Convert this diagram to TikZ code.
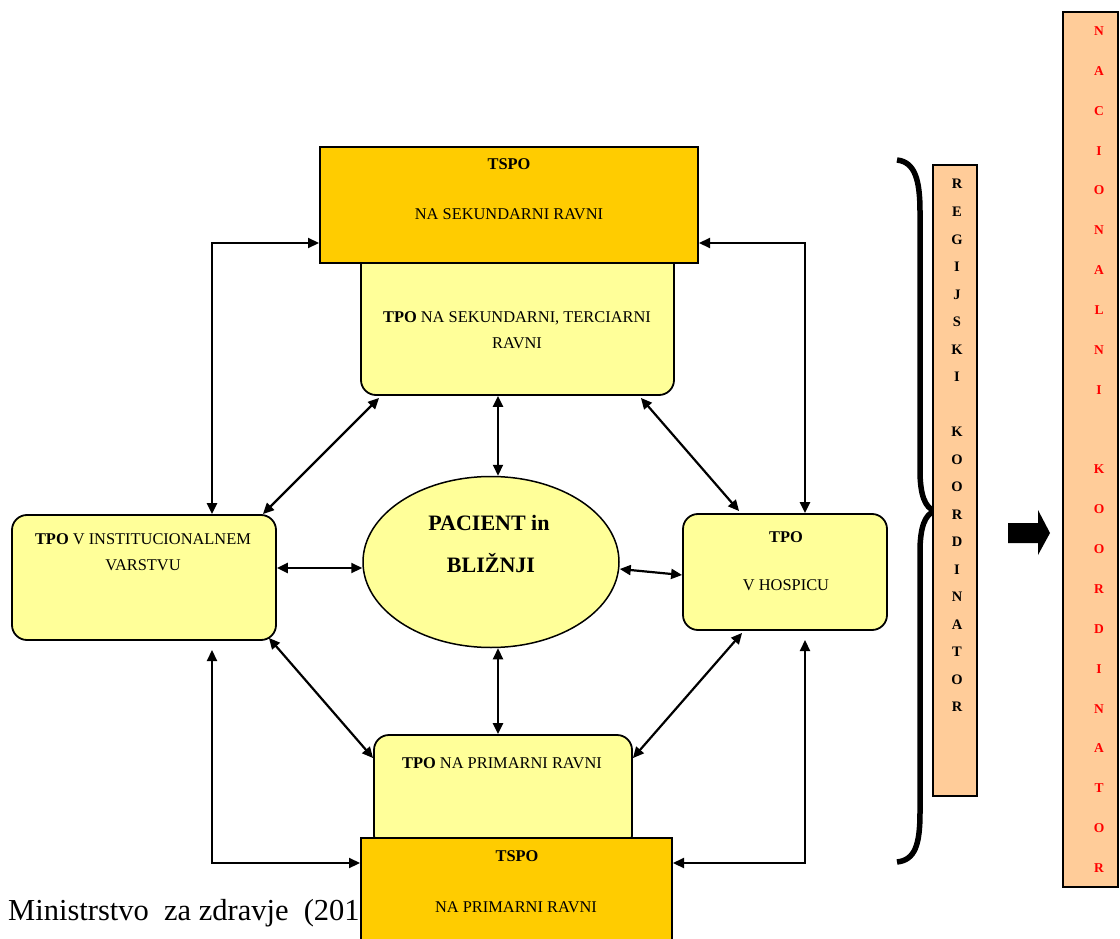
\documentclass[tikz,border=0pt]{standalone}
\usepackage{fontspec}
\setmainfont{Liberation Serif}
\usetikzlibrary{arrows.meta,shapes.geometric,calc}
\definecolor{tspoc}{HTML}{FFCC00}
\definecolor{tpoc}{HTML}{FFFF99}
\definecolor{barc}{HTML}{FFCC99}
\begin{document}
\begin{tikzpicture}[x=1pt,y=-1pt,
  arr/.style={line width=2.2pt,{Triangle[length=11pt,width=10pt]}-{Triangle[length=11pt,width=10pt]}},
  tspobox/.style={draw,line width=2pt,fill=tspoc,rectangle,inner sep=0pt},
  tpobox/.style={draw,line width=1.8pt,fill=tpoc,rectangle,rounded corners=15pt,inner sep=0pt},
  barbox/.style={draw,line width=2pt,fill=barc,rectangle,inner sep=0pt},
  txt/.style={anchor=base,inner sep=0pt,font=\fontsize{16.4}{19}\selectfont},
  bigtxt/.style={anchor=base,inner sep=0pt,font=\fontsize{22}{26}\bfseries\selectfont},
  regl/.style={anchor=base,inner sep=0pt,font=\fontsize{14.5}{16}\bfseries\selectfont},
  natl/.style={anchor=base,inner sep=0pt,text=red,font=\fontsize{13.5}{15}\bfseries\selectfont}]
\useasboundingbox (0,0) rectangle (1120,939);
\fill[white] (0,0) rectangle (1120,939);

% source text (partly covered)
\node[anchor=base west,inner sep=0pt,font=\fontsize{30.5}{36}\selectfont] (src) at (8,920) {Ministrstvo\ \ za zdravje\ \ (201};

% boxes
\node[tpobox,minimum width=313pt,minimum height=170pt] (tpoS) at (517.5,310) {};
\node[tspobox,minimum width=378pt,minimum height=116pt] (tspoT) at (509,205) {};
\node[tpobox,minimum width=264pt,minimum height=125pt] (left) at (144,577.5) {};
\node[tpobox,minimum width=204pt,minimum height=116pt] (right) at (785,572) {};
\node[draw,line width=1.5pt,fill=tpoc,ellipse,inner sep=0pt,minimum width=256pt,minimum height=171pt] (ell) at (491,562) {};
\node[tpobox,minimum width=258pt,minimum height=115pt] (tpoP) at (503,792.5) {};
\node[tspobox,minimum width=311pt,minimum height=120pt] (tspoB) at (516.5,898) {};

% texts
\node[txt] (t1) at (509,169.5) {\textbf{TSPO}};
\node[txt] (t2) at (509,219.5) {NA SEKUNDARNI RAVNI};
\node[txt] (t3) at (517,322.5) {\textbf{TPO} NA SEKUNDARNI, TERCIARNI};
\node[txt] (t4) at (517,348.5) {RAVNI};
\node[txt] (t5) at (143,544.5) {\textbf{TPO} V INSTITUCIONALNEM};
\node[txt] (t6) at (143,570.5) {VARSTVU};
\node[txt] (t7) at (786,542.5) {\textbf{TPO}};
\node[txt] (t8) at (786,590.5) {V HOSPICU};
\node[bigtxt] (t9) at (489,530.5) {PACIENT in};
\node[bigtxt] (t10) at (491,572.5) {BLIŽNJI};
\node[txt] (t11) at (502,768.5) {\textbf{TPO} NA PRIMARNI RAVNI};
\node[txt] (t12) at (517,861.5) {\textbf{TSPO}};
\node[txt] (t13) at (516,912.5) {NA PRIMARNI RAVNI};

% connectors
\coordinate (c1) at (212,243);
\coordinate (c2) at (805,243);
\coordinate (c3a) at (212,650);
\coordinate (c3) at (212,863);
\coordinate (c4a) at (805,640);
\coordinate (c4) at (805,863);
\draw[arr] (c1 -| tspoT.west) -- (c1) -- (c1 |- left.north);
\draw[arr] (c2 -| tspoT.east) -- (c2) -- (c2 |- right.north);
\draw[arr] (c3a) -- (c3) -- (c3 -| tspoB.west);
\draw[arr] (c4a) -- (c4) -- (c4 -| tspoB.east);

\draw[arr] ([xshift=19pt,yshift=-2pt]tpoS.south west) -- ([xshift=-14pt]left.north east);
\draw[arr] ([xshift=-34pt,yshift=-2pt]tpoS.south east) -- ([xshift=57pt,yshift=2pt]right.north west);
\draw[arr] ([xshift=-8pt,yshift=3pt]left.south east) -- ([yshift=-24pt]tpoP.north west);
\draw[arr] ([yshift=-24pt]tpoP.north east) -- ([xshift=60pt,yshift=-2pt]right.south west);

\coordinate (vx) at (498,0);
\draw[arr] (vx |- tpoS.south) -- (vx |- ell.north);
\draw[arr] (vx |- ell.south) -- (vx |- tpoP.north);
\coordinate (hy) at (0,568);
\draw[arr] (hy -| left.east) -- (hy -| ell.west);
\draw[arr] ([yshift=-7pt]ell.east) -- ([yshift=-3pt]right.west);

% brace
\draw[line width=5.5pt] (897,160) .. controls (915,162) and (920,180) .. (920,212) -- (920,470)
  .. controls (920,495) and (925,508) .. (935,511) .. controls (925,514) and (920,527) .. (920,552)
  -- (920,812) .. controls (920,845) and (915,860) .. (897,862);

% regional coordinator
\node[barbox,minimum width=44pt,minimum height=631pt] (reg) at (955,480.5) {};
\foreach \l/\k in {R/0,E/1,G/2,I/3,J/4,S/5,K/6,I/7,K/9,O/10,O/11,R/12,D/13,I/14,N/15,A/16,T/17,O/18,R/19}
  \node[regl] (rg\k) at (957,{189+27.5*\k}) {\l};

% block arrow
\fill (1008,523) -- (1038,523) -- (1038,510) -- (1050,533) -- (1038,555) -- (1038,543) -- (1008,543) -- cycle;

% national coordinator
\node[barbox,minimum width=55pt,minimum height=875pt] (nat) at (1090.5,449.5) {};
\foreach \l/\k in {N/0,A/1,C/2,I/3,O/4,N/5,A/6,L/7,N/8,I/9,K/11,O/12,O/13,R/14,D/15,I/16,N/17,A/18,T/19,O/20,R/21}
  \node[natl] (nl\k) at (1099,{35.5+39.86*\k}) {\l};
\end{tikzpicture}
\end{document}
